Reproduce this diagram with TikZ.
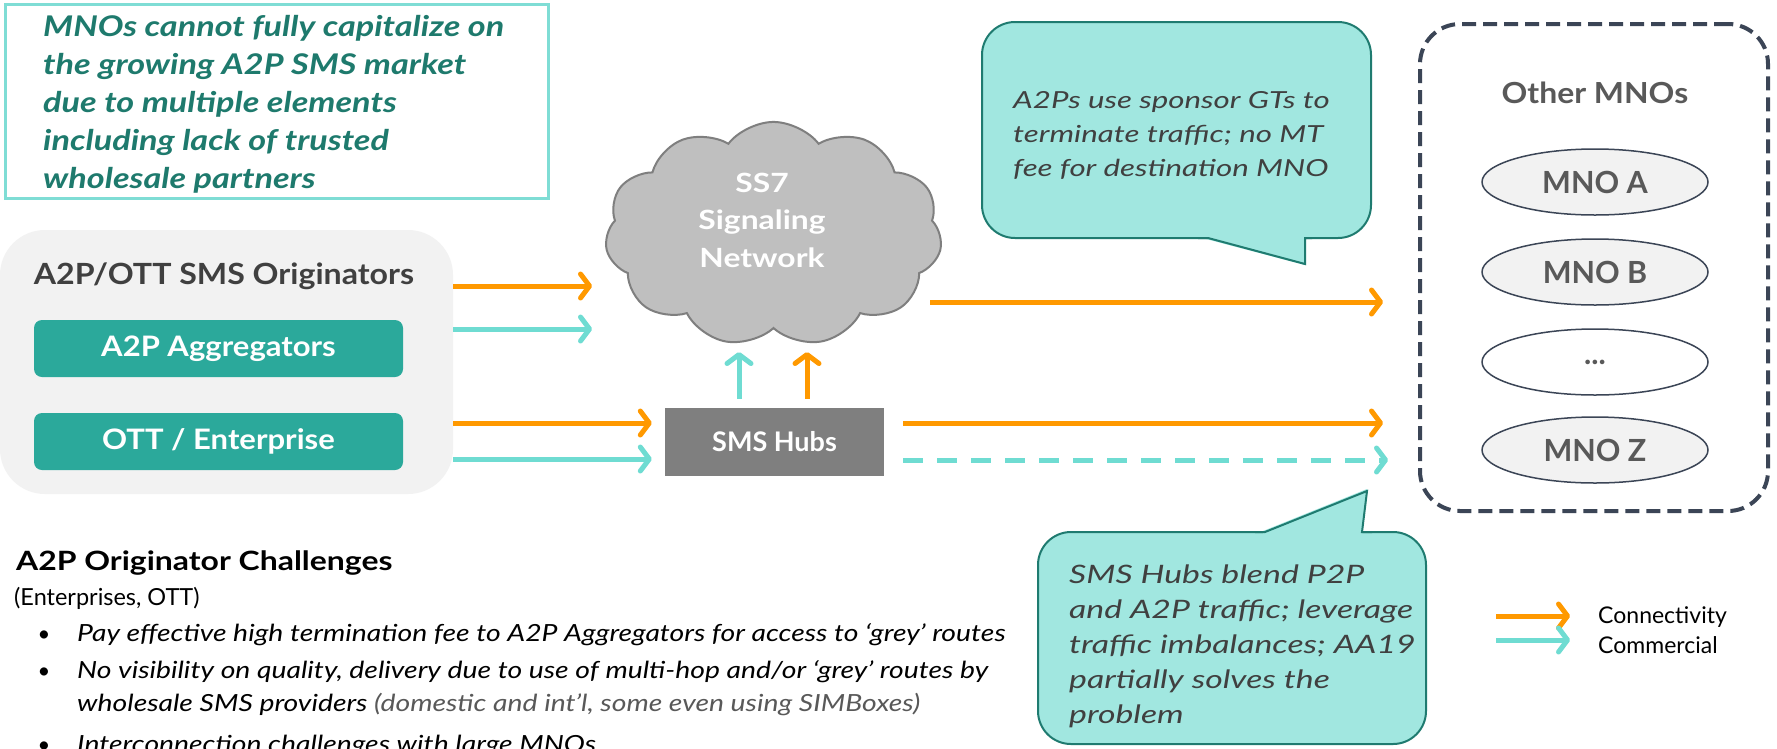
\documentclass[tikz,border=0pt]{standalone}
\usepackage{fontspec}
\setmainfont{Lato}
\newfontfamily\latoMid{Lato}[FakeStretch=1.1]
\newfontfamily\latoWide{Lato}[FakeStretch=1.2]
\newfontfamily\latoXWide{Lato}[FakeStretch=1.33]
\usetikzlibrary{arrows.meta,shapes.symbols,shapes.geometric}

\definecolor{orangeC}{HTML}{FF9900}
\definecolor{tealC}{HTML}{6FDCD2}
\definecolor{tealBox}{HTML}{2BA99B}
\definecolor{bubFill}{HTML}{A1E7E0}
\definecolor{bubLine}{HTML}{1F7B70}
\definecolor{noteLine}{HTML}{7FDDD5}
\definecolor{noteText}{HTML}{1E7A6D}
\definecolor{cloudFill}{HTML}{BFBFBF}
\definecolor{cloudLine}{HTML}{7F7F7F}
\definecolor{hubFill}{HTML}{7F7F7F}
\definecolor{slate}{HTML}{3B4556}
\definecolor{txtGrey}{HTML}{404040}
\definecolor{lblGrey}{HTML}{595959}
\definecolor{panel}{HTML}{F2F2F2}

\newcommand\fsz[2]{\fontsize{#1}{#2}\selectfont}

\begin{document}
\begin{tikzpicture}[x=1pt,y=-1pt,
  flow/.style={line width=5pt,
    -{Straight Barb[length=9pt,width=24pt,round]}},
  conn/.style={flow, draw=orangeC},
  comm/.style={flow, draw=tealC},
  tealbox/.style={fill=tealBox, rounded corners=8pt, minimum width=369pt,
    minimum height=57pt, inner sep=0pt, text=white,
    font=\latoMid\fsz{28.2}{32}\bfseries},
  mno/.style={ellipse, draw=slate, line width=1.5pt, fill=panel,
    minimum width=226pt, minimum height=66pt, inner sep=0pt,
    text=lblGrey, font=\fsz{30.5}{34}\bfseries},
  bubblebox/.style={fill=bubFill, draw=bubLine, line width=2pt,
    rounded corners=33pt, inner sep=0pt},
  bubbletext/.style={anchor=west, align=left, inner sep=0pt, text=txtGrey},
  itemtext/.style={anchor=base west, inner sep=0pt,
    font=\latoWide\fsz{23.6}{28}\itshape},
  itemdot/.style={anchor=base, inner sep=0pt, font=\fsz{22}{28}},
  legendtext/.style={anchor=west, inner sep=0pt, font=\fsz{23}{26}}
]
\useasboundingbox (0,0) rectangle (1777,748);
\fill[white] (0,0) rectangle (1777,748);

% key message
\node[draw=noteLine, line width=2.5pt, anchor=north west, minimum width=543pt,
  minimum height=194pt, inner sep=0pt] (note) at (4,3) {};
\node[anchor=west, align=left, inner sep=0pt, text=noteText,
  font=\latoWide\fsz{28.5}{38}\bfseries\itshape] (notetxt) at (43,104)
  {MNOs cannot fully capitalize on\\the growing A2P SMS market\\due to multiple elements\\including lack of trusted\\wholesale partners};

% originators panel
\node[fill=panel, rounded corners=45pt, minimum width=453pt,
  minimum height=264pt, inner sep=0pt] (orig) at (226.5,362) {};
\node[anchor=base, inner sep=0pt, text=txtGrey,
  font=\latoMid\fsz{29.2}{32}\bfseries]
  (origtitle) at (224,284) {A2P/OTT SMS Originators};
\node[tealbox] (agg) at (218.5,348.5) {A2P Aggregators};
\node[tealbox] (ott) at (218.5,441.5) {OTT / Enterprise};

% signaling network (cloud flattened a little)
\begin{scope}[shift={(773.5,234)}, yscale=0.93]
  \node[cloud, cloud puffs=11, cloud puff arc=110, cloud ignores aspect,
    transform shape, fill=cloudFill, draw=cloudLine, line width=2pt,
    minimum width=337pt, minimum height=241pt, inner sep=0pt] (ss7) at (0,0) {};
\end{scope}
\coordinate (ss7foot) at (773,352);
\node[align=center, inner sep=0pt, text=white,
  font=\latoWide\fsz{26.5}{37.5}\bfseries]
  (ss7txt) at (762,220) {SS7\\Signaling\\Network};

% hubs
\node[fill=hubFill, minimum width=219pt, minimum height=68pt, inner sep=0pt,
  text=white, font=\fsz{27}{30}\bfseries] (hubs) at (774.5,442) {SMS Hubs};

% destination operators
\node[draw=slate, line width=4pt, dash pattern=on 14pt off 7pt,
  rounded corners=40pt, minimum width=348pt, minimum height=487pt,
  inner sep=0pt] (others) at (1594,267.5) {};
\node[anchor=base, inner sep=0pt, text=lblGrey,
  font=\latoMid\fsz{29}{32}\bfseries]
  (otherstitle) at (1595,103) {Other MNOs};
\node[mno] (mnoA) at (1595,182) {MNO A};
\node[mno] (mnoB) at (1595,272) {MNO B};
\node[mno, fill=white] (mnoX) at (1595,362) {...};
\node[mno] (mnoZ) at (1595,450) {MNO Z};

% callout: sponsor GTs
\node[bubblebox, minimum width=389pt, minimum height=216pt] (bub1) at (1176.5,130) {};
\fill[bubFill] (1206,239) -- (1305,265) -- (1305,233) -- (1206,233) -- cycle;
\draw[bubLine, line width=2pt] (1198,238) -- (1208,238) -- (1305,264) -- (1305,238) -- (1312,238);
\node[bubbletext, font=\latoXWide\fsz{23.5}{34}\itshape] (bub1txt) at (1013,135)
  {A2Ps use sponsor GTs to\\terminate traffic; no MT\\fee for destination MNO};

% callout: SMS hubs
\node[bubblebox, minimum width=388pt, minimum height=212pt] (bub2) at (1232,638) {};
\fill[bubFill] (1263,531) -- (1367,489) -- (1362,537) -- (1263,537) -- cycle;
\draw[bubLine, line width=2pt] (1255,532) -- (1265,532) -- (1367,491) -- (1362,532) -- (1372,532);
\node[bubbletext, font=\latoXWide\fsz{25.4}{35}\itshape] (bub2txt) at (1069,646)
  {SMS Hubs blend P2P\\and A2P traffic; leverage\\traffic imbalances; AA19\\partially solves the\\problem};

% flows
\coordinate (cloudout) at (930,302);
\coordinate (cloudin) at (592,0);
\draw[conn] (orig.east |- 0,286) -- (cloudin |- 0,286);
\draw[comm] (orig.east |- 0,329) -- (cloudin |- 0,329);
\draw[conn, shorten >=13pt] (orig.east |- 0,423) -- (hubs.west |- 0,423);
\draw[comm, shorten >=13pt] (orig.east |- 0,459) -- (hubs.west |- 0,459);
\draw[comm, shorten <=9pt] (hubs.north -| 739,0) -- (ss7foot -| 739,0);
\draw[conn, shorten <=9pt] (hubs.north -| 807,0) -- (ss7foot -| 807,0);
\draw[conn, shorten >=35pt] (cloudout) -- (others.west |- cloudout);
\draw[conn, shorten <=19pt, shorten >=35pt] (hubs.east |- 0,423) -- (others.west |- 0,423);
\draw[comm, dash pattern=on 20pt off 14pt, shorten <=19pt, shorten >=30pt]
  (hubs.east |- 0,460) -- (others.west |- 0,460);

% legend
\node[legendtext] (legconn) at (1598,617) {Connectivity};
\node[legendtext] (legcomm) at (1598,645) {Commercial};
\coordinate (legconnstart) at (1496,616);
\coordinate (legcommstart) at (1496,640);
\draw[conn, shorten >=28pt] (legconnstart) -- (legconn.west |- legconnstart);
\draw[comm, shorten >=28pt] (legcommstart) -- (legcomm.west |- legcommstart);

% originator challenges
\node[anchor=base west, inner sep=0pt, font=\latoWide\fsz{26.6}{32}\bfseries]
  (chal) at (16,570) {A2P Originator Challenges};
\node[anchor=base west, inner sep=0pt, font=\fsz{23.5}{26}] (chalsub) at (14,605) {(Enterprises, OTT)};
\node[itemdot] (dot1) at (44,641) {•};
\node[itemtext] (item1) at (77,641) {Pay effective high termination fee to A2P Aggregators for access to ‘grey’ routes};
\node[itemdot] (dot2) at (44,678) {•};
\node[itemtext] (item2a) at (77,678) {No visibility on quality, delivery due to use of multi-hop and/or ‘grey’ routes by};
\node[itemtext] (item2b) at (77,711) {wholesale SMS providers {\color{lblGrey}(domestic and int’l, some even using SIMBoxes)}};
\node[itemdot] (dot3) at (44,752) {•};
\node[itemtext] (item3) at (77,752) {Interconnection challenges with large MNOs};
\end{tikzpicture}
\end{document}
